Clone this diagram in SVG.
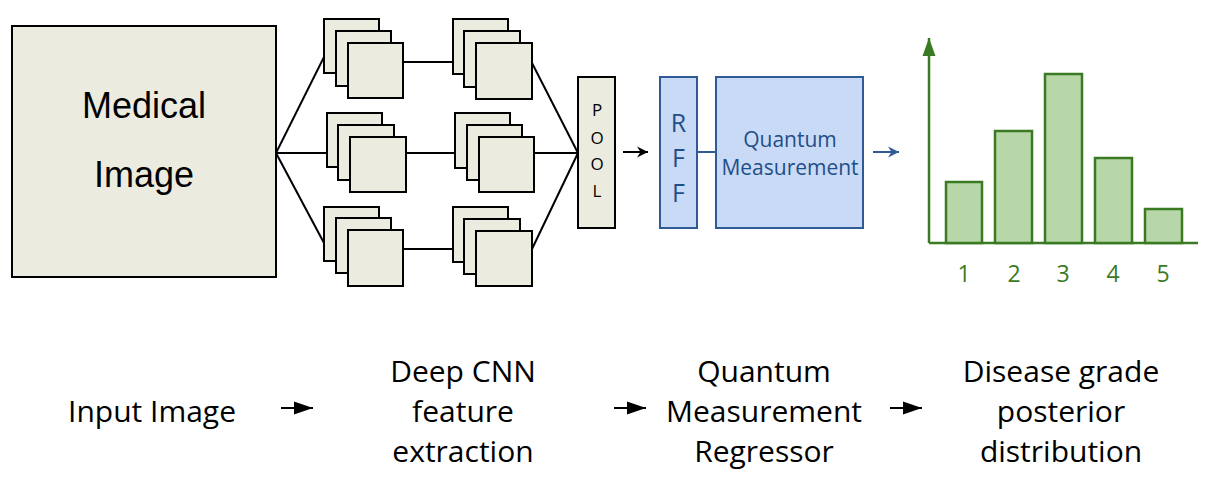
<svg xmlns="http://www.w3.org/2000/svg" width="1215" height="480" viewBox="0 0 1215 480">
<style>
  .beige { fill: #ecebe0; stroke: #000; stroke-width: 2; }
  .blue { fill: #c9daf6; stroke: #2f5a96; stroke-width: 2; }
  .bar { fill: #b7d7a8; stroke: #3a7a22; stroke-width: 2.5; }
  .ln { stroke: #000; stroke-width: 2; fill: none; }
  .os { font-family: "Open Sans", "DejaVu Sans", sans-serif; }
  .cap { font-family: "Open Sans", sans-serif; font-size: 30px; fill: #000; text-anchor: middle; }
  .bt { fill: #1f4e88; text-anchor: middle; font-family: "Open Sans", sans-serif; }
  .gl { fill: #3a7a22; font-family: "Open Sans", sans-serif; font-size: 23px; text-anchor: middle; }
</style>
<defs>
  <marker id="stealth" markerWidth="12" markerHeight="12" refX="11" refY="6" orient="auto" markerUnits="userSpaceOnUse">
    <path d="M0,0.5 L11,6 L0,11.5 L3.5,6 Z" fill="#000"/>
  </marker>
  <marker id="stealthBlue" markerWidth="12" markerHeight="12" refX="11" refY="6" orient="auto" markerUnits="userSpaceOnUse">
    <path d="M0,0.5 L11,6 L0,11.5 L3.5,6 Z" fill="#2f5a96"/>
  </marker>
  <marker id="tri" markerWidth="20" markerHeight="14" refX="19" refY="7" orient="auto" markerUnits="userSpaceOnUse">
    <path d="M0,0.5 L19,7 L0,13.5 Z" fill="#000"/>
  </marker>
  <marker id="greenUp" markerWidth="20" markerHeight="14" refX="18" refY="7" orient="auto" markerUnits="userSpaceOnUse">
    <path d="M0,0.5 L18,7 L0,13.5 Z" fill="#3a7a22"/>
  </marker>
</defs>

<g id="connectors">
  <line class="ln" x1="276" y1="153" x2="324" y2="57"/>
  <line class="ln" x1="276" y1="153" x2="327" y2="153"/>
  <line class="ln" x1="276" y1="153" x2="324" y2="243"/>
  <line class="ln" x1="403" y1="62" x2="453" y2="62"/>
  <line class="ln" x1="406" y1="153" x2="455" y2="153"/>
  <line class="ln" x1="403" y1="249" x2="453" y2="249"/>
  <line class="ln" x1="532" y1="63" x2="578" y2="153"/>
  <line class="ln" x1="534" y1="153" x2="578" y2="153"/>
  <line class="ln" x1="532" y1="249" x2="578" y2="153"/>
  <line x1="623" y1="152" x2="648" y2="152" stroke="#000" stroke-width="2" marker-end="url(#stealth)"/>
  <line x1="697" y1="152" x2="716" y2="152" stroke="#2f5a96" stroke-width="2"/>
  <line x1="873" y1="152" x2="899" y2="152" stroke="#2f5a96" stroke-width="2" marker-end="url(#stealthBlue)"/>
  <line x1="281" y1="408" x2="313" y2="408" stroke="#000" stroke-width="2" marker-end="url(#tri)"/>
  <line x1="614" y1="408" x2="646" y2="408" stroke="#000" stroke-width="2" marker-end="url(#tri)"/>
  <line x1="890" y1="408" x2="922" y2="408" stroke="#000" stroke-width="2" marker-end="url(#tri)"/>
</g>

<g id="medical-image">
  <rect class="beige" x="12" y="26" width="264" height="251"/>
  <text x="144" y="118" font-family="'Liberation Sans', Arial, sans-serif" font-size="36" text-anchor="middle">Medical</text>
  <text x="144" y="187" font-family="'Liberation Sans', Arial, sans-serif" font-size="36" text-anchor="middle">Image</text>
</g>

<g id="conv1-top">
  <rect class="beige" x="324" y="19" width="55" height="54"/>
  <rect class="beige" x="336" y="31" width="55" height="55"/>
  <rect class="beige" x="348" y="43" width="55" height="55"/>
</g>
<g id="conv1-mid">
  <rect class="beige" x="327" y="113" width="55" height="54"/>
  <rect class="beige" x="338" y="125" width="56" height="55"/>
  <rect class="beige" x="350" y="137" width="56" height="55"/>
</g>
<g id="conv1-bot">
  <rect class="beige" x="324" y="207" width="55" height="54"/>
  <rect class="beige" x="336" y="218" width="55" height="55"/>
  <rect class="beige" x="348" y="230" width="55" height="56"/>
</g>
<g id="conv2-top">
  <rect class="beige" x="453" y="19" width="55" height="55"/>
  <rect class="beige" x="464" y="31" width="56" height="56"/>
  <rect class="beige" x="476" y="43" width="56" height="56"/>
</g>
<g id="conv2-mid">
  <rect class="beige" x="455" y="113" width="55" height="55"/>
  <rect class="beige" x="467" y="125" width="55" height="55"/>
  <rect class="beige" x="479" y="137" width="55" height="55"/>
</g>
<g id="conv2-bot">
  <rect class="beige" x="453" y="207" width="55" height="55"/>
  <rect class="beige" x="464" y="219" width="56" height="55"/>
  <rect class="beige" x="476" y="231" width="56" height="55"/>
</g>

<g id="pool">
  <rect class="beige" x="578" y="77" width="37" height="151"/>
  <text class="os" x="597" y="116" font-size="17" text-anchor="middle">P</text>
  <text class="os" x="597" y="144" font-size="17" text-anchor="middle">O</text>
  <text class="os" x="597" y="170" font-size="17" text-anchor="middle">O</text>
  <text class="os" x="597" y="197" font-size="17" text-anchor="middle">L</text>
</g>

<g id="rff">
  <rect class="blue" x="660" y="77" width="37" height="151"/>
  <text class="bt" x="678.5" y="132" font-size="25">R</text>
  <text class="bt" x="678.5" y="167" font-size="25">F</text>
  <text class="bt" x="678.5" y="202" font-size="25">F</text>
</g>

<g id="quantum-measurement">
  <rect class="blue" x="716" y="77" width="147" height="151"/>
  <text class="bt" x="790" y="147" font-size="21">Quantum</text>
  <text class="bt" x="790" y="175" font-size="21">Measurement</text>
</g>

<g id="histogram">
  <line x1="929" y1="243" x2="929" y2="38" stroke="#3a7a22" stroke-width="2.5" marker-end="url(#greenUp)"/>
  <line x1="929" y1="243" x2="1198" y2="243" stroke="#3a7a22" stroke-width="2.5"/>
  <rect class="bar" x="946" y="182" width="36" height="61"/>
  <rect class="bar" x="995" y="131" width="37" height="112"/>
  <rect class="bar" x="1045" y="74" width="37" height="169"/>
  <rect class="bar" x="1095" y="158" width="37" height="85"/>
  <rect class="bar" x="1145" y="209" width="37" height="34"/>
  <text class="gl" x="964" y="282">1</text>
  <text class="gl" x="1014" y="282">2</text>
  <text class="gl" x="1063" y="282">3</text>
  <text class="gl" x="1113" y="282">4</text>
  <text class="gl" x="1163" y="282">5</text>
</g>

<g id="label-input">
  <text class="cap" x="152" y="422">Input Image</text>
</g>
<g id="label-cnn">
  <text class="cap" x="463" y="382">Deep CNN</text>
  <text class="cap" x="463" y="422">feature</text>
  <text class="cap" x="463" y="462">extraction</text>
</g>
<g id="label-qmr">
  <text class="cap" x="764" y="382">Quantum</text>
  <text class="cap" x="764" y="422">Measurement</text>
  <text class="cap" x="764" y="462">Regressor</text>
</g>
<g id="label-posterior">
  <text class="cap" x="1061" y="382">Disease grade</text>
  <text class="cap" x="1061" y="422">posterior</text>
  <text class="cap" x="1061" y="462">distribution</text>
</g>
</svg>
